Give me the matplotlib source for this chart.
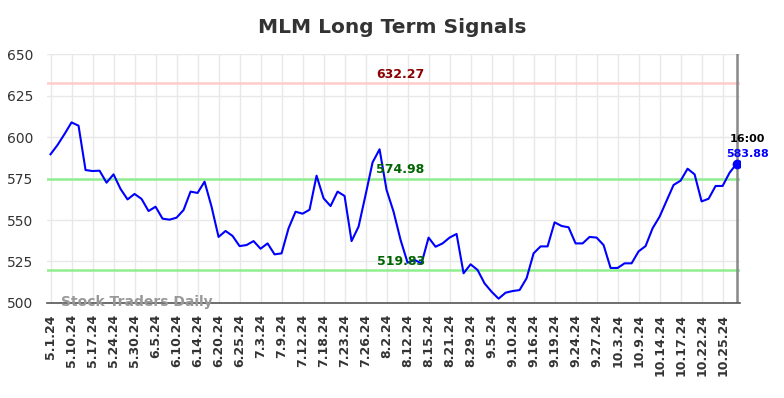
import matplotlib
matplotlib.use("Agg")
import matplotlib.pyplot as plt

# closing prices (one point every other trading day or so)
prices = [
    589.6, 595.2, 601.8, 608.8, 606.8, 580.1, 579.5, 579.7, 572.5, 577.5,
    568.7, 562.4, 565.7, 562.7, 555.4, 558.0, 550.8, 550.2, 551.4, 556.0,
    567.1, 566.3, 573.1, 558.0, 539.8, 543.4, 540.4, 534.3, 534.9, 537.3,
    532.7, 535.9, 529.3, 529.9, 545.0, 555.0, 553.8, 556.2, 576.7, 563.1,
    558.4, 567.1, 564.5, 537.3, 546.0, 565.1, 584.7, 592.6, 568.1, 555.0,
    538.0, 524.3, 525.9, 523.9, 539.4, 533.9, 535.9, 539.4, 541.6, 517.9,
    523.3, 519.9, 511.8, 506.8, 502.6, 506.2, 507.2, 507.8, 514.9, 529.9,
    534.1, 534.1, 548.6, 546.4, 545.6, 535.9, 535.9, 539.8, 539.4, 534.9,
    521.1, 521.1, 523.9, 523.9, 531.1, 534.3, 545.0, 552.0, 561.6, 571.1,
    573.7, 580.9, 577.5, 561.2, 562.8, 570.5, 570.5, 578.5, 583.88,
]

tick_labels = [
    "5.1.24", "5.10.24", "5.17.24", "5.24.24", "5.30.24", "6.5.24", "6.10.24",
    "6.14.24", "6.20.24", "6.25.24", "7.3.24", "7.9.24", "7.12.24", "7.18.24",
    "7.23.24", "7.26.24", "8.2.24", "8.12.24", "8.15.24", "8.21.24", "8.29.24",
    "9.5.24", "9.10.24", "9.16.24", "9.19.24", "9.24.24", "9.27.24", "10.3.24",
    "10.9.24", "10.14.24", "10.17.24", "10.22.24", "10.25.24",
]

resistance = 632.27
upper_support = 574.98
lower_support = 519.83
last_time = "16:00"

x = list(range(len(prices)))
tick_pos = [i * 3 for i in range(len(tick_labels))]

fig = plt.figure(figsize=(7.84, 3.98), dpi=100)
ax = fig.add_axes([0.060, 0.2387, 0.884, 0.6256])

ax.set_xlim(-0.5, len(prices) - 0.5)
ax.set_ylim(500, 650)
ax.set_yticks([500, 525, 550, 575, 600, 625, 650])
ax.set_xticks(tick_pos)
ax.set_xticklabels(tick_labels, rotation=90, fontsize=9, fontweight="bold", color="#333333")
ax.tick_params(axis="y", labelsize=10, colors="#333333", length=0, pad=10)
ax.tick_params(axis="x", length=0, pad=8)
ax.grid(True, color="#e8e8e8", linewidth=1)
ax.set_axisbelow(True)

for s in ["top", "right", "left"]:
    ax.spines[s].set_visible(False)
ax.spines["bottom"].set_color("#555555")
ax.spines["bottom"].set_linewidth(1.2)

ax.axhline(resistance, color="#ffcccc", linewidth=1.8)
ax.axhline(upper_support, color="#90ee90", linewidth=1.8)
ax.axhline(lower_support, color="#90ee90", linewidth=1.8)

ax.axvline(x[-1], color="#888888", linewidth=1.8)

ax.plot(x, prices, color="#0000ff", linewidth=1.5)
ax.plot(x[-1], prices[-1], "o", color="#0000ff", markersize=6)

mid = 50
ax.text(mid, resistance + 1.5, f"{resistance:.2f}", color="#8b0000",
        fontsize=9, fontweight="bold", ha="center", va="bottom")
ax.text(mid, upper_support + 1.5, f"{upper_support:.2f}", color="#006400",
        fontsize=9, fontweight="bold", ha="center", va="bottom")
ax.text(mid, lower_support + 1.5, f"{lower_support:.2f}", color="#006400",
        fontsize=9, fontweight="bold", ha="center", va="bottom")

ax.text(x[-1] + 1.6, prices[-1] + 12, last_time, color="black", fontsize=8,
        fontweight="bold", ha="center", va="bottom", clip_on=False)
ax.text(x[-1] + 1.6, prices[-1] + 3, f"{prices[-1]:.2f}", color="#0000ff",
        fontsize=8, fontweight="bold", ha="center", va="bottom", clip_on=False)

ax.text(1.5, 500.3, "Stock Traders Daily", color="#999999", fontsize=10,
        fontweight="bold", ha="left", va="center")

fig.suptitle("MLM Long Term Signals", x=0.5, y=0.955, fontsize=14.5,
             fontweight="bold", color="#333333")

fig.savefig("out.png", dpi=100)
